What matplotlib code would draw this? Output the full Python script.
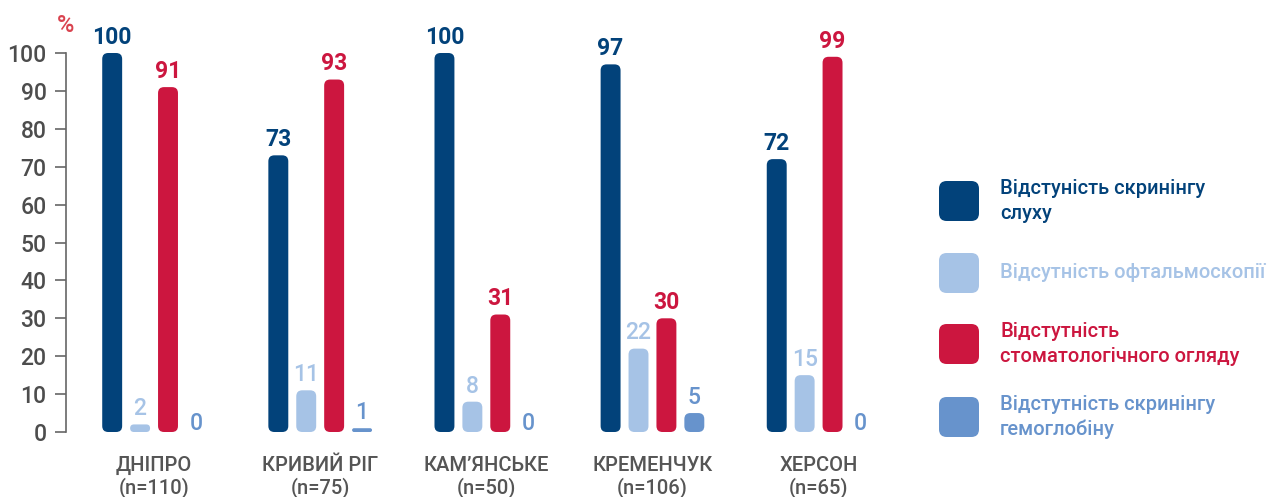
import matplotlib.pyplot as plt
from matplotlib.patches import FancyBboxPatch
import numpy as np

plt.rcParams['font.family'] = ['Roboto', 'Noto Sans', 'DejaVu Sans']

cities = ["ДНІПРО", "КРИВИЙ РІГ", "КАМ’ЯНСЬКЕ", "КРЕМЕНЧУК", "ХЕРСОН"]
sizes = ["(n=110)", "(n=75)", "(n=50)", "(n=106)", "(n=65)"]

hearing = [100, 73, 100, 97, 72]
ophthalmo = [2, 11, 8, 22, 15]
dental = [91, 93, 31, 30, 99]
hemoglobin = [0, 1, 0, 5, 0]

series_names = [
    "Відстуність скринінгу\nслуху",
    "Відсутність офтальмоскопії",
    "Відстутність\nстоматологічного огляду",
    "Відстутність скринінгу\nгемоглобіну",
]
colors = ["#02427a", "#a6c3e6", "#cc163f", "#6793cc"]

fig = plt.figure(figsize=(12.8, 4.97), dpi=100)
ax = fig.add_axes([66 / 1280, 1 - 432 / 497, (900 - 66) / 1280, (432 - 53) / 497])

x = np.arange(len(cities))
step = 0.168
width = 0.12
ax.set_xlim(-0.53, 4.49)
ax.set_ylim(0, 100)

# data units per pixel, for rounded corners
px_x = (4.49 + 0.53) / (900 - 66)
px_y = 100 / (432 - 53)
aspect = px_y / px_x

all_series = [hearing, ophthalmo, dental, hemoglobin]
for i, (vals, col) in enumerate(zip(all_series, colors)):
    xs = x + (i - 1.5) * step
    bars = ax.bar(xs, vals, width=width, color=col)
    for rect, v in zip(bars, vals):
        rect.remove()
        if v > 0:
            r = min(6 * px_x, rect.get_height() / aspect / 2)
            p = FancyBboxPatch((rect.get_x(), 0), rect.get_width(), rect.get_height(),
                               boxstyle=f"round,pad=0,rounding_size={r}",
                               mutation_aspect=aspect, fc=col, ec="none", clip_on=False)
            ax.add_patch(p)
        weight = "semibold" if i in (0, 2) else "medium"
        ax.annotate(str(v), (rect.get_x() + rect.get_width() / 2, v),
                    xytext=(0, 3 if v > 0 else -2), textcoords="offset points",
                    ha="center", va="bottom", fontsize=16.5, color=col,
                    fontweight=weight, annotation_clip=False)

ax.set_yticks(range(0, 101, 10))
ax.set_xticks(x)
ax.set_xticklabels([f"{c}\n{s}" for c, s in zip(cities, sizes)],
                   fontsize=14.5, color="#555555", linespacing=1.15,
                   fontweight="medium")
ax.tick_params(axis="x", length=0, pad=17)
ax.tick_params(axis="y", length=8, width=1.2, color="#666666",
               labelsize=16.5, labelcolor="#4d4d4d", pad=6)
for lab in ax.get_yticklabels():
    lab.set_fontweight("medium")
for s in ["top", "right", "bottom"]:
    ax.spines[s].set_visible(False)
ax.spines["left"].set_color("#666666")
ax.spines["left"].set_linewidth(1.2)

fig.text(66 / 1280, 1 - 25 / 497, "%", color="#d9434f", fontsize=17,
         fontweight="medium", ha="center", va="center")

# legend
leg_y = [201, 273, 344, 417]
for name, col, yc in zip(series_names, colors, leg_y):
    sq = FancyBboxPatch((939 / 1280, 1 - (yc + 20) / 497), 40 / 1280, 40 / 497,
                        boxstyle="round,pad=0,rounding_size=0.006",
                        mutation_aspect=1280 / 497, fc=col, ec="none",
                        transform=fig.transFigure)
    fig.patches.append(sq)
    fig.text(1000 / 1280, 1 - yc / 497, name, color=col, fontsize=14.5,
             fontweight="medium", ha="left", va="center", linespacing=1.4)

fig.savefig("out.png", dpi=100, facecolor="white")
